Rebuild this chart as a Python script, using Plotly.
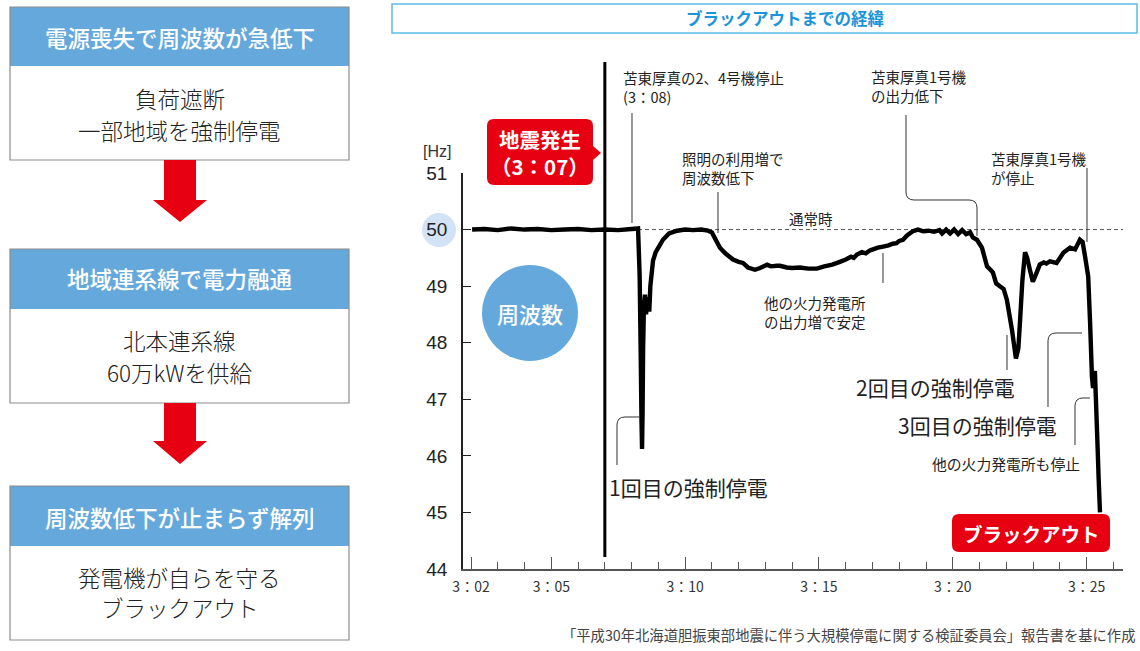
import plotly.graph_objects as go

# ---------------- data ----------------
# minutes after 3:00
time_min = [2.04, 2.5, 3.0, 3.5, 4.0, 4.5, 5.0, 5.5, 6.0, 6.5, 7.0, 7.5, 8.0, 8.24,
            8.30, 8.34, 8.37, 8.39, 8.41, 8.43, 8.46, 8.50, 8.54, 8.58, 8.62, 8.66, 8.70,
            8.80, 8.90, 9.00, 9.17, 9.40, 9.70, 10.0, 10.3, 10.6, 10.85, 11.0,
            11.3, 11.5, 11.79, 12.0, 12.16, 12.35, 12.61, 12.8, 13.06, 13.2, 13.43, 13.54,
            13.8, 14.0, 14.29, 14.6, 14.92, 15.2, 15.5, 15.78, 16.0, 16.2, 16.3, 16.42,
            16.6, 16.75, 16.9, 17.02, 17.2, 17.4, 17.6, 17.76, 17.9, 18.0, 18.14, 18.3,
            18.51, 18.7, 18.9, 19.1, 19.3, 19.5, 19.6, 19.75, 19.9, 20.05, 20.2, 20.35,
            20.5, 20.65, 20.75, 20.9, 21.09, 21.28, 21.45, 21.5, 21.62, 21.76, 21.9, 22.02,
            22.21, 22.36, 22.45, 22.51, 22.6, 22.70, 22.78, 22.88, 22.99, 23.1, 23.25,
            23.4, 23.5, 23.63, 23.88, 24.13, 24.38, 24.57, 24.75, 24.85, 24.94, 25.06,
            25.13, 25.2, 25.24, 25.28, 25.31, 25.34, 25.4, 25.45, 25.5]
freq_hz = [50.0, 50.01, 49.99, 50.02, 50.0, 50.01, 49.99, 50.0, 50.01, 49.99, 50.0, 49.99, 50.01, 50.02,
           49.2, 47.8, 46.6, 46.12, 46.8, 47.9, 48.65, 48.85, 48.5, 48.75, 48.8, 48.55, 49.0,
           49.45, 49.6, 49.68, 49.82, 49.93, 49.98, 50.0, 49.99, 50.0, 49.98, 49.95,
           49.68, 49.58, 49.47, 49.43, 49.41, 49.33, 49.29, 49.32, 49.38, 49.35, 49.36, 49.36,
           49.33, 49.32, 49.33, 49.31, 49.31, 49.35, 49.38, 49.43, 49.47, 49.52, 49.5, 49.56,
           49.6, 49.58, 49.63, 49.65, 49.68, 49.7, 49.72, 49.75, 49.76, 49.8, 49.82, 49.9,
           49.97, 50.0, 49.97, 49.98, 49.96, 49.99, 49.93, 50.0, 49.93, 50.0, 49.92, 49.99,
           49.92, 49.95, 49.86, 49.82, 49.68, 49.35, 49.27, 49.24, 49.05, 49.0, 48.95, 48.76,
           48.23, 47.72, 47.9, 48.36, 49.1, 49.6, 49.5, 49.29, 49.08, 49.2, 49.38,
           49.42, 49.4, 49.44, 49.41, 49.59, 49.68, 49.65, 49.82, 49.78, 49.53, 49.17,
           48.36, 47.4, 47.2, 47.45, 47.5, 47.1, 46.3, 45.6, 45.0]

x_tick_vals = [2, 5, 10, 15, 20, 25]
x_tick_text = ["3：02", "3：05", "3：10", "3：15", "3：20", "3：25"]
y_tick_vals = [44, 45, 46, 47, 48, 49, 50, 51]
quake_time = 7.0
normal_freq = 50.0

flow_headers = ["電源喪失で周波数が急低下", "地域連系線で電力融通", "周波数低下が止まらず解列"]
flow_bodies = [["負荷遮断", "一部地域を強制停電"],
               ["北本連系線", "60万kWを供給"],
               ["発電機が自らを守る", "ブラックアウト"]]

# ---------------- geometry helpers ----------------
W, H = 1140, 651
L, R, T, B = 463, 1123, 173, 569


def X(p):
    return (p - L) / (R - L)


def Y(p):
    return (B - p) / (B - T)


def pt(x, y):
    return f"{X(x):.5f},{Y(y):.5f}"


shapes = []
annos = []

JP = "Noto Sans CJK JP"
RED = "#e60012"
BLUE = "#65a9dc"


def txt(x, y, s, size, color="#222222", xanchor="center", weight="normal", family=JP):
    annos.append(dict(x=X(x), y=Y(y), xref="paper", yref="paper", text=s, showarrow=False,
                      xanchor=xanchor, yanchor="middle", align=xanchor if xanchor != "center" else "center",
                      font=dict(size=size, color=color, family=family, weight=weight)))


def rect(x0, y0, x1, y1, fill=None, line=None, lw=1, layer="above"):
    shapes.append(dict(type="rect", xref="paper", yref="paper", x0=X(x0), x1=X(x1), y0=Y(y1), y1=Y(y0),
                       fillcolor=fill if fill else "rgba(0,0,0,0)",
                       line=dict(color=line if line else "rgba(0,0,0,0)", width=lw if line else 0),
                       layer=layer))


def path(d, color="#333333", lw=1, fill=None, layer="above"):
    shapes.append(dict(type="path", xref="paper", yref="paper", path=d,
                       line=dict(color=color, width=lw),
                       fillcolor=fill if fill else "rgba(0,0,0,0)", layer=layer))


def rrect_path(x0, y0, x1, y1, r, pointer=None):
    d = f"M {pt(x0 + r, y0)} L {pt(x1 - r, y0)} Q {pt(x1, y0)} {pt(x1, y0 + r)} "
    if pointer:
        py, ph, pw = pointer
        d += f"L {pt(x1, py - ph)} L {pt(x1 + pw, py)} L {pt(x1, py + ph)} "
    d += f"L {pt(x1, y1 - r)} Q {pt(x1, y1)} {pt(x1 - r, y1)} L {pt(x0 + r, y1)} " \
         f"Q {pt(x0, y1)} {pt(x0, y1 - r)} L {pt(x0, y0 + r)} Q {pt(x0, y0)} {pt(x0 + r, y0)} Z"
    return d


# ---------------- left flow panel ----------------
boxes = [(7, 66, 160, 37, 98, 130), (249, 309, 403, 278, 340, 372), (486, 546, 640, 517, 577, 607)]
bx0, bx1 = 10, 349
cx = (bx0 + bx1) / 2
for i, (top, hb, bot, hy, l1, l2) in enumerate(boxes):
    rect(bx0, top, bx1, hb, fill=BLUE)
    rect(bx0, top, bx1, bot, line="#8c8c8c", lw=1.2)
    txt(cx, hy, flow_headers[i], 22.5, color="white", weight=500)
    txt(cx, l1, flow_bodies[i][0], 22.5, color="#222222", weight=300)
    txt(cx, l2, flow_bodies[i][1], 22.5, color="#222222", weight=300)

for (s0, s1, apex) in [(160, 200, 222), (403, 441, 464)]:
    d = (f"M {pt(164, s0)} L {pt(196, s0)} L {pt(196, s1)} L {pt(207, s1)} L {pt(180, apex)} "
         f"L {pt(153, s1)} L {pt(164, s1)} Z")
    path(d, color=RED, lw=0, fill=RED)

# ---------------- title box ----------------
rect(392, 4, 1137, 33, line="#5cbbe8", lw=1.5)
txt(785, 18, "ブラックアウトまでの経緯", 16.5, color="#1a94da", weight="bold")

# ---------------- decorations in chart ----------------
shapes.append(dict(type="circle", xref="paper", yref="paper", x0=X(422), x1=X(456), y0=Y(247), y1=Y(213),
                   fillcolor="#d3e2f4", line=dict(width=0), layer="below"))
shapes.append(dict(type="circle", xref="paper", yref="paper", x0=X(482), x1=X(578), y0=Y(361), y1=Y(265),
                   fillcolor=BLUE, line=dict(width=0), layer="above"))
txt(530, 313, "周波数", 22, color="white", weight=500)

# earthquake line
shapes.append(dict(type="line", xref="x", yref="paper", x0=quake_time, x1=quake_time, y0=Y(557), y1=Y(62),
                   line=dict(color="black", width=3)))
# normal frequency dashed line
shapes.append(dict(type="line", xref="x", yref="y", x0=8.24, x1=26.36, y0=normal_freq, y1=normal_freq,
                   line=dict(color="#555555", width=1, dash="4px,3px"), layer="below"))
txt(811, 218, "通常時", 14.5)

# leader lines
leaders = [
    f"M {pt(632, 113)} L {pt(632, 223)}",
    f"M {pt(718, 192)} L {pt(718, 233)}",
    f"M {pt(906, 115)} L {pt(906, 192)} Q {pt(906, 200)} {pt(914, 200)} L {pt(969, 200)} "
    f"Q {pt(977, 200)} {pt(977, 208)} L {pt(977, 236)}",
    f"M {pt(1087, 168)} L {pt(1087, 242)}",
    f"M {pt(883, 253)} L {pt(883, 283)}",
    f"M {pt(1007, 335)} L {pt(1007, 370)}",
    f"M {pt(1048, 407)} L {pt(1048, 341)} Q {pt(1048, 333)} {pt(1056, 333)} L {pt(1082, 333)}",
    f"M {pt(1075, 445)} L {pt(1075, 406)} Q {pt(1075, 398)} {pt(1083, 398)} L {pt(1090, 398)}",
    f"M {pt(617, 465)} L {pt(617, 425)} Q {pt(617, 417)} {pt(625, 417)} L {pt(640, 417)}",
]
for d in leaders:
    path(d, color="#333333", lw=1)

# event labels
txt(621, 87, "苫東厚真の2、4号機停止<br>(3：08)", 14.5, xanchor="left")
txt(680, 167.5, "照明の利用増で<br>周波数低下", 14.5, xanchor="left")
txt(869, 86, "苫東厚真1号機<br>の出力低下", 14.5, xanchor="left")
txt(989, 167.5, "苫東厚真1号機<br>が停止", 14.5, xanchor="left")
txt(762, 311.5, "他の火力発電所<br>の出力増で安定", 14.5, xanchor="left")
txt(607, 487, "1回目の強制停電", 21, xanchor="left")
txt(854, 387, "2回目の強制停電", 21, xanchor="left")
txt(896, 425, "3回目の強制停電", 21, xanchor="left")
txt(930, 463, "他の火力発電所も停止", 14.8, xanchor="left")

# red callouts
path(rrect_path(487, 119, 593, 185, 7, pointer=(153, 7, 8)), color=RED, lw=0, fill=RED)
txt(540, 152, "地震発生<br>（3：07）", 20.5, color="white", weight="bold")
path(rrect_path(952, 514, 1110, 552, 7), color=RED, lw=0, fill=RED)
txt(1031, 533, "ブラックアウト", 19.5, color="white", weight="bold")

# axis unit and source
txt(437, 151, "[Hz]", 16, color="#333333", family="Liberation Sans Narrow, Liberation Sans")
txt(1137, 634, "「平成30年北海道胆振東部地震に伴う大規模停電に関する検証委員会」報告書を基に作成", 14.3,
    color="#444444", xanchor="right")

# ---------------- figure ----------------
fig = go.Figure()
fig.add_trace(go.Scatter(x=time_min, y=freq_hz, mode="lines",
                         line=dict(color="black", width=4.4, simplify=False),
                         hoverinfo="skip", showlegend=False))

fig.update_layout(
    width=W, height=H,
    margin=dict(l=L, r=W - R, t=T, b=H - B),
    paper_bgcolor="white", plot_bgcolor="rgba(0,0,0,0)",
    font=dict(family=JP, color="#222222"),
    shapes=shapes, annotations=annos, showlegend=False,
    xaxis=dict(range=[1.70, 26.36], tickmode="array", tickvals=x_tick_vals, ticktext=x_tick_text,
               ticks="inside", ticklen=12, tickwidth=1.2, tickcolor="#555555",
               showline=True, linecolor="#555555", linewidth=1.5, showgrid=False, zeroline=False,
               tickfont=dict(size=14, color="#333333", family=JP), ticklabelstandoff=4,
               minor=dict(ticks="inside", ticklen=7, tickwidth=1.2, tickcolor="#555555",
                          tick0=0, dtick=1, showgrid=False)),
    yaxis=dict(range=[44, 51], tickmode="array", tickvals=y_tick_vals,
               ticks="inside", ticklen=8, tickwidth=1.2, tickcolor="#222222",
               showline=True, linecolor="#222222", linewidth=1.5, showgrid=False, zeroline=False,
               tickfont=dict(size=19, color="#222222", family="Liberation Sans"),
               ticklabelstandoff=10),
)

fig.write_html("out.html")
